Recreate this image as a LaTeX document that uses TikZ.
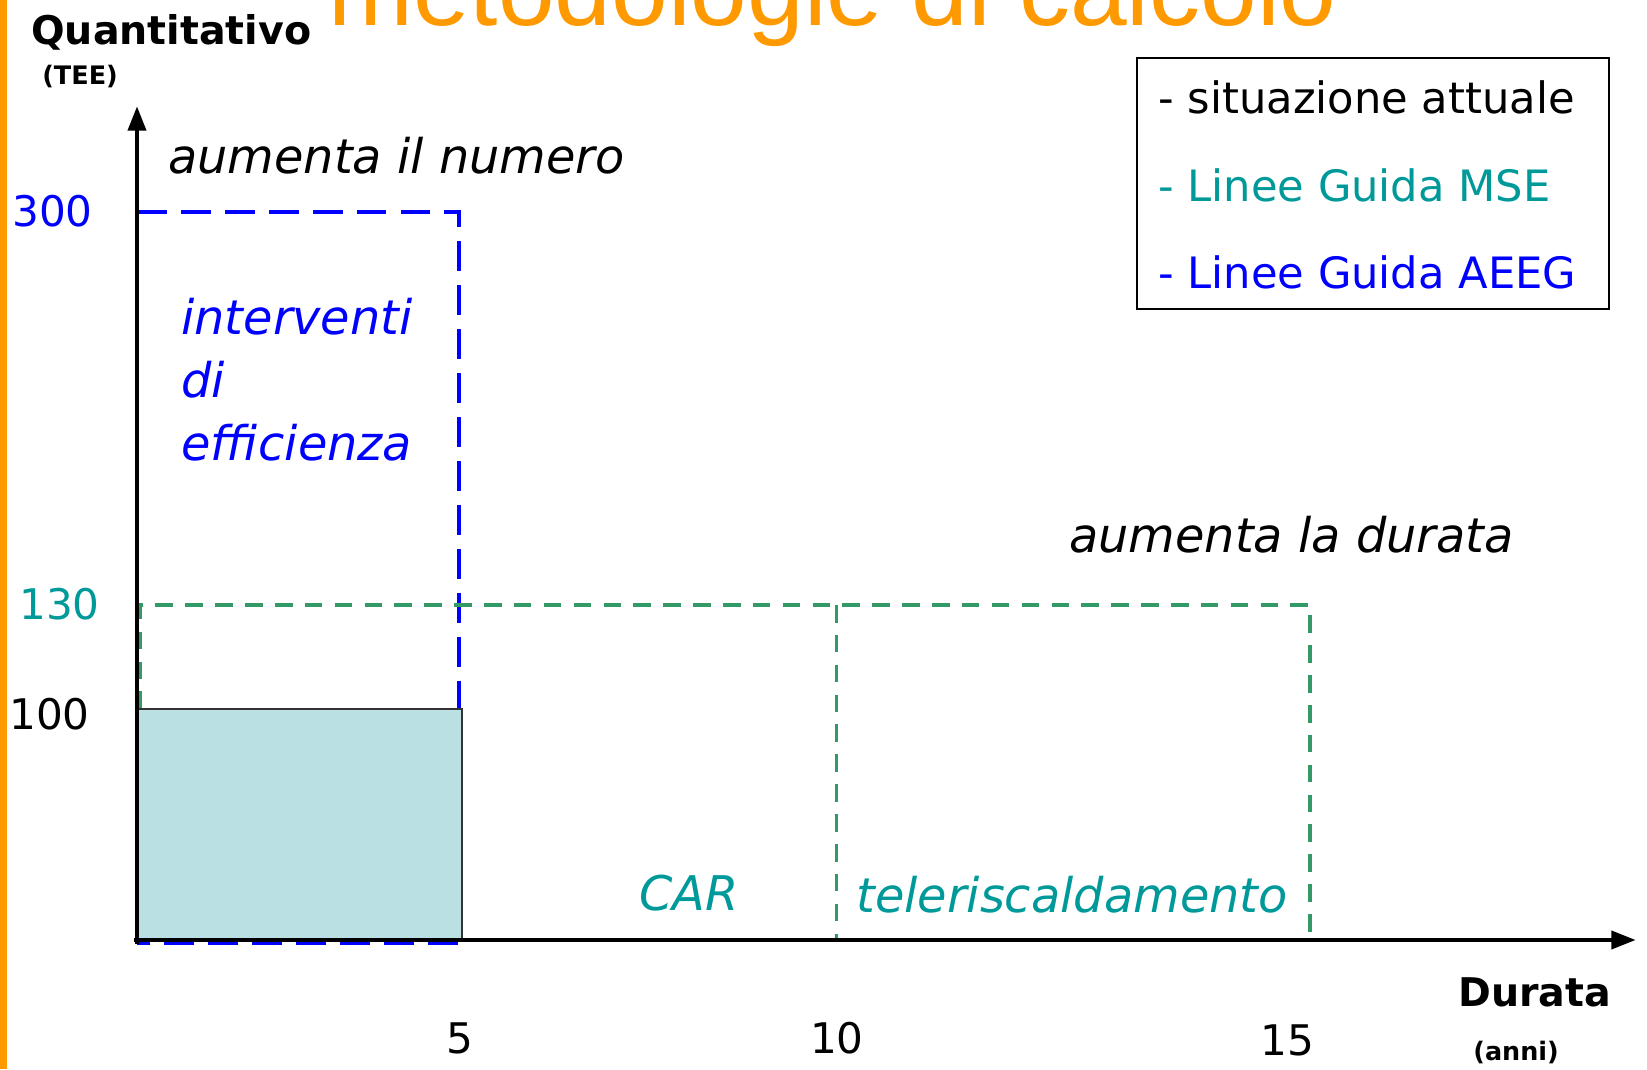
\documentclass[tikz,border=0pt]{standalone}
\usepackage{fontspec}
\setmainfont{DejaVu Sans}
\newfontfamily\titlefont{Liberation Sans}
\usepackage{tikz}
\usetikzlibrary{arrows.meta}

\definecolor{titleorange}{RGB}{255,153,0}
\definecolor{mseteal}{RGB}{0,153,153}
\definecolor{msegreen}{RGB}{51,153,102}
\definecolor{aeegblue}{RGB}{0,0,255}
\definecolor{boxfill}{RGB}{186,224,227}

\begin{document}
\begin{tikzpicture}[x=0.02cm,y=-0.02cm,
  lbl/.style={inner sep=0pt,anchor=base west},
  axislbl/.style={lbl,font=\fontsize{22.5}{26}\selectfont\bfseries},
  unitlbl/.style={lbl,font=\fontsize{14.5}{17}\selectfont\bfseries},
  ticklbl/.style={inner sep=0pt,font=\fontsize{24}{28}\selectfont},
  note/.style={lbl,font=\fontsize{27.2}{33}\selectfont\itshape},
  leg/.style={lbl,font=\fontsize{24.6}{30}\selectfont},
  aeeg/.style={aeegblue,line width=2.4pt,dash pattern=on 17pt off 8pt},
  mse/.style={msegreen,line width=2.2pt,dash pattern=on 10pt off 7pt}]
\useasboundingbox (0,0) rectangle (1647,1069);
\fill[titleorange] (0,0) rectangle (7,1069);

% title, cut at the top
\node[lbl,titleorange,font=\fontsize{58}{60}\selectfont\titlefont] (title) at (328,25) {metodologie di calcolo};

\coordinate (O) at (137,940);
\coordinate (ytip) at (137,106);
\coordinate (xtip) at (1636,940);

% guide lines
\draw[aeeg] (137,212) -- (459,212) -- (459,943) -- (137,943);
\draw[mse] (140,709) -- (140,605) -- (1310,605) -- (1310,940);
\draw[mse,line width=1.7pt] (836,605) -- (836,940);

% situazione attuale
\draw[fill=boxfill,draw=black!80,line width=1pt] (137,709) rectangle (462,940);

% axes
\draw[line width=2.8pt,-{Triangle[length=14pt,width=10pt]}] (137,944) -- (ytip);
\draw[line width=2.8pt,-{Triangle[length=14pt,width=10pt]}] (134,940) -- (xtip);

\node[axislbl] (qlbl) at (31,44) {Quantitativo};
\node[unitlbl] (tee) at (42,84) {(TEE)};
\node[axislbl] (dlbl) at (1458,1006) {Durata};
\node[unitlbl] (anni) at (1473,1060) {(anni)};

\node[ticklbl,anchor=base west,aeegblue] (y300) at (12,226) {300};
\node[ticklbl,anchor=base west,mseteal] (y130) at (19,619) {130};
\node[ticklbl,anchor=base west] (y100) at (9,729) {100};
\node[ticklbl,anchor=base] (x5) at (460,1053) {5};
\node[ticklbl,anchor=base] (x10) at (837,1053) {10};
\node[ticklbl,anchor=base] (x15) at (1287,1055) {15};

\node[note] (numero) at (168,173) {aumenta il numero};
\node[note,aeegblue] (int1) at (181,334) {interventi};
\node[note,aeegblue] (int2) at (181,397) {di};
\node[note,aeegblue] (int3) at (181,460) {efficienza};
\node[note] (durata) at (1069,552) {aumenta la durata};
\node[note,mseteal] (car) at (639,910) {CAR};
\node[note,mseteal] (tlr) at (856,912) {teleriscaldamento};

% legend
\draw[line width=1.1pt] (1137,58) rectangle (1609,309);
\node[leg] (leg1) at (1158,113) {- situazione attuale};
\node[leg,mseteal] (leg2) at (1158,201) {- Linee Guida MSE};
\node[leg,aeegblue] (leg3) at (1158,288) {- Linee Guida AEEG};
\end{tikzpicture}
\end{document}
